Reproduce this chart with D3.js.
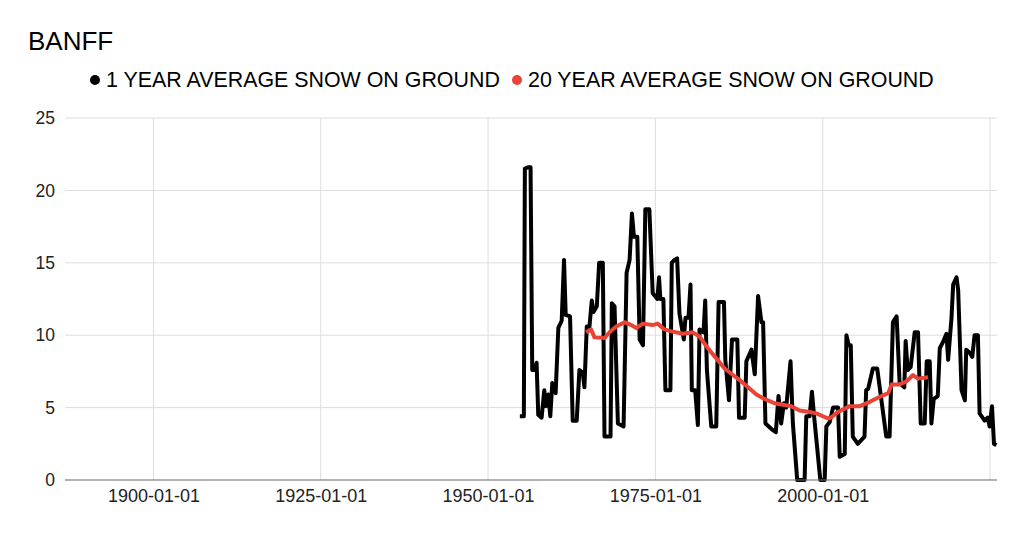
<!DOCTYPE html>
<html>
  <head>
    <meta charset="utf-8">
    <title>Banff snow on ground</title>
    <script src="https://cdn.jsdelivr.net/npm/d3@7"></script>
    <style>
      body { margin: 0; background: #fff; }
      text { font-family: "Liberation Sans", Arial, sans-serif; }
    </style>
  </head>

  <body>
    <div id="chart"></div>

    <script>
      // 1 year average (decimal year, cm)
      let oneYearDates = [
        1954.75, 1955.35, 1955.5, 1956.0, 1956.35, 1956.6, 1957.0, 1957.25, 1957.5, 1958.0,
        1958.4, 1958.65, 1959.0, 1959.3, 1959.6, 1960.1, 1960.5, 1961.0, 1961.35, 1961.6,
        1962.25, 1962.65, 1963.25, 1963.65, 1964.15, 1964.4, 1964.75, 1965.15, 1965.5, 1965.75,
        1966.25, 1966.6, 1967.15, 1967.4, 1968.3, 1968.5, 1968.9, 1969.4, 1970.25, 1970.7,
        1971.15, 1971.5, 1971.8, 1972.3, 1972.65, 1973.15, 1973.5, 1974.1, 1974.6, 1975.3,
        1975.55, 1975.75, 1976.2, 1976.5, 1977.25, 1977.45, 1977.85, 1978.25, 1978.6, 1979.25,
        1979.5, 1979.95, 1980.25, 1980.45, 1980.95, 1981.35, 1981.6, 1982.2, 1982.45, 1982.7,
        1983.35, 1984.1, 1984.45, 1985.25, 1985.45, 1986.0, 1986.45, 1987.25, 1987.5, 1988.35,
        1988.6, 1989.35, 1989.85, 1990.35, 1990.85, 1991.1, 1991.45, 1992.4, 1993.0, 1993.4,
        1993.8, 1994.2, 1994.55, 1995.2, 1995.55, 1996.2, 1997.3, 1997.55, 1998.05, 1998.4,
        1998.7, 1999.65, 2000.3, 2000.55, 2001.05, 2001.55, 2002.3, 2002.55, 2003.3, 2003.55,
        2003.9, 2004.2, 2004.5, 2005.25, 2006.25, 2006.5, 2006.8, 2007.5, 2008.15, 2009.5,
        2010.0, 2010.5, 2011.05, 2011.5, 2012.2, 2012.4, 2012.7, 2013.15, 2013.75, 2014.25,
        2014.65, 2015.25, 2015.55, 2016.0, 2016.25, 2016.6, 2017.2, 2017.5, 2017.95, 2018.5,
        2018.75, 2019.25, 2019.5, 2020.0, 2020.25, 2020.75, 2021.25, 2021.45, 2021.95, 2022.35,
        2022.7, 2023.2, 2023.45, 2024.2, 2024.65, 2024.95, 2025.3, 2025.6, 2025.95
      ];
      let oneYearValues = [
        4.4, 4.4, 21.5, 21.6, 21.6, 7.6, 7.6, 8.1, 4.5, 4.3,
        6.2, 5.1, 5.9, 4.4, 6.7, 6.0, 10.5, 11.0, 15.2, 11.4,
        11.3, 4.1, 4.1, 7.6, 7.4, 6.4, 10.6, 10.6, 12.4, 11.6,
        12.0, 15.0, 15.0, 3.0, 3.0, 12.2, 12.0, 3.9, 3.7, 14.3,
        15.2, 18.4, 16.8, 16.8, 9.7, 9.3, 18.7, 18.7, 12.9, 12.5,
        14.0, 12.5, 12.5, 6.2, 6.2, 15.0, 15.2, 15.3, 11.5, 9.7,
        11.2, 11.2, 13.5, 6.2, 6.2, 3.8, 10.4, 10.2, 12.4, 7.6,
        3.7, 3.7, 12.3, 12.3, 8.3, 5.5, 9.7, 9.7, 4.3, 4.3,
        8.2, 9.0, 7.3, 12.7, 10.9, 10.9, 3.9, 3.5, 3.3, 5.8,
        3.9, 5.3, 5.0, 8.2, 3.9, 0, 0, 4.4, 4.4, 6.1,
        4.5, 0, 0, 3.7, 4.0, 5.0, 5.0, 1.6, 1.8, 10.0,
        9.3, 9.3, 3.0, 2.5, 3.0, 6.2, 6.3, 7.7, 7.7, 3.0,
        3.0, 10.9, 11.3, 6.7, 6.4, 9.6, 7.6, 7.8, 10.2, 10.2,
        3.9, 3.9, 8.2, 8.2, 3.9, 5.6, 5.8, 9.1, 9.5, 10.1,
        8.3, 11.2, 13.5, 14.0, 13.1, 6.2, 5.5, 9.0, 8.8, 8.5,
        10.0, 10.0, 4.6, 4.1, 4.3, 3.7, 5.1, 2.5, 2.4
      ];

      // 20 year average
      let twentyYearDates = [
        1964.65, 1965.4, 1965.9, 1967.4, 1968.15, 1969.15, 1970.4, 1971.4, 1972.15, 1973.15,
        1974.6, 1975.35, 1976.35, 1977.1, 1979.1, 1980.6, 1981.6, 1982.85, 1984.1, 1985.35,
        1986.6, 1987.6, 1988.85, 1990.1, 1991.3, 1992.8, 1994.05, 1995.3, 1996.55, 1998.05,
        1999.05, 2000.55, 2001.05, 2002.3, 2004.05, 2005.55, 2007.05, 2008.55, 2009.8, 2010.3,
        2011.5, 2012.5, 2013.5, 2014.25, 2015.75
      ];
      let twentyYearValues = [
        10.2, 10.4, 9.85, 9.8, 10.2, 10.6, 10.9, 10.7, 10.5, 10.8,
        10.7, 10.8, 10.4, 10.3, 10.1, 10.2, 9.9, 9.1, 8.4, 7.7,
        7.25, 6.9, 6.4, 5.9, 5.6, 5.3, 5.2, 5.1, 4.8, 4.7,
        4.6, 4.3, 4.25, 4.7, 5.1, 5.1, 5.4, 5.75, 6.0, 6.6,
        6.6, 6.8, 7.25, 7.0, 7.1
      ];

      let seriesNames = [ "1 YEAR AVERAGE SNOW ON GROUND", "20 YEAR AVERAGE SNOW ON GROUND" ];
      let seriesColours = [ "#000000", "#ea4335" ];
      let xTickYears = [ 1900, 1925, 1950, 1975, 2000, 2025 ];
      let xTickLabels = [ "1900-01-01", "1925-01-01", "1950-01-01", "1975-01-01", "2000-01-01", "" ];
      let yTicks = [ 0, 5, 10, 15, 20, 25 ];

      // decimal year to Date
      function toDate(y) {
        let yr = Math.floor(y);
        let start = new Date(yr, 0, 1), end = new Date(yr + 1, 0, 1);
        return new Date(+start + (y - yr) * (end - start));
      }

      let width = 1024, height = 534;
      let margin = { top: 118, right: 27, bottom: 54, left: 65 };

      let svg = d3.select("#chart")
        .append("svg")
          .attr("width", width)
          .attr("height", height);

      let x = d3.scaleTime()
        .domain([toDate(1886.78), toDate(2026.05)])
        .range([margin.left, width - margin.right]);
      let y = d3.scaleLinear()
        .domain([0, 25])
        .range([height - margin.bottom, margin.top]);

      // title
      svg.append("text")
        .attr("x", 28)
        .attr("y", 50)
        .style("font-size", "26px")
        .style("fill", "#000")
        .text("BANFF");

      // legend
      let legendX = [ 95, 517 ];
      seriesNames.forEach(function(name, i) {
        svg.append("circle")
          .attr("cx", legendX[i])
          .attr("cy", 80)
          .attr("r", 5)
          .style("fill", seriesColours[i]);
        svg.append("text")
          .attr("x", legendX[i] + 11)
          .attr("y", 87)
          .style("font-size", "21.4px")
          .style("fill", "#000")
          .text(name);
      });

      // gridlines
      svg.append("g")
        .selectAll("line")
          .data(yTicks.slice(1))
        .enter().append("line")
          .attr("x1", margin.left)
          .attr("x2", width - margin.right)
          .attr("y1", function(d) { return y(d); })
          .attr("y2", function(d) { return y(d); })
          .style("stroke", "#dddddd")
          .style("stroke-width", 1);
      svg.append("g")
        .selectAll("line")
          .data(xTickYears)
        .enter().append("line")
          .attr("x1", function(d) { return x(toDate(d)); })
          .attr("x2", function(d) { return x(toDate(d)); })
          .attr("y1", margin.top)
          .attr("y2", height - margin.bottom)
          .style("stroke", "#dddddd")
          .style("stroke-width", 1);

      // axes labels
      let yAxis = svg.append("g")
        .attr("transform", "translate(" + margin.left + ",0)")
        .call(d3.axisLeft(y).tickValues(yTicks).tickSize(0).tickPadding(10));
      yAxis.select(".domain").remove();
      yAxis.selectAll("text")
        .style("font-size", "17.5px")
        .style("fill", "#222")
        .style("font-family", "'Liberation Sans', Arial, sans-serif");

      let xAxis = svg.append("g")
        .attr("transform", "translate(0," + (height - margin.bottom) + ")")
        .call(d3.axisBottom(x)
          .tickValues(xTickYears.map(toDate))
          .tickFormat(function(d, i) { return xTickLabels[i]; })
          .tickSize(0)
          .tickPadding(9));
      xAxis.select(".domain").remove();
      xAxis.selectAll("text")
        .style("font-size", "18px")
        .style("fill", "#222")
        .style("font-family", "'Liberation Sans', Arial, sans-serif");

      // lines
      let line = d3.line()
        .x(function(d) { return x(d.date); })
        .y(function(d) { return y(d.value); });

      let oneYear = oneYearDates.map(function(d, i) { return { date: toDate(d), value: oneYearValues[i] }; });
      let twentyYear = twentyYearDates.map(function(d, i) { return { date: toDate(d), value: twentyYearValues[i] }; });

      svg.append("path")
        .datum(oneYear)
        .attr("d", line)
        .style("fill", "none")
        .style("stroke", seriesColours[0])
        .style("stroke-width", 4)
        .style("stroke-linejoin", "round");

      svg.append("path")
        .datum(twentyYear)
        .attr("d", line)
        .style("fill", "none")
        .style("stroke", seriesColours[1])
        .style("stroke-width", 4)
        .style("stroke-linejoin", "round");

      // baseline
      svg.append("line")
        .attr("x1", margin.left)
        .attr("x2", width - margin.right)
        .attr("y1", y(0))
        .attr("y2", y(0))
        .style("stroke", "#666")
        .style("stroke-width", 1.2);
    </script>
  </body>
</html>
